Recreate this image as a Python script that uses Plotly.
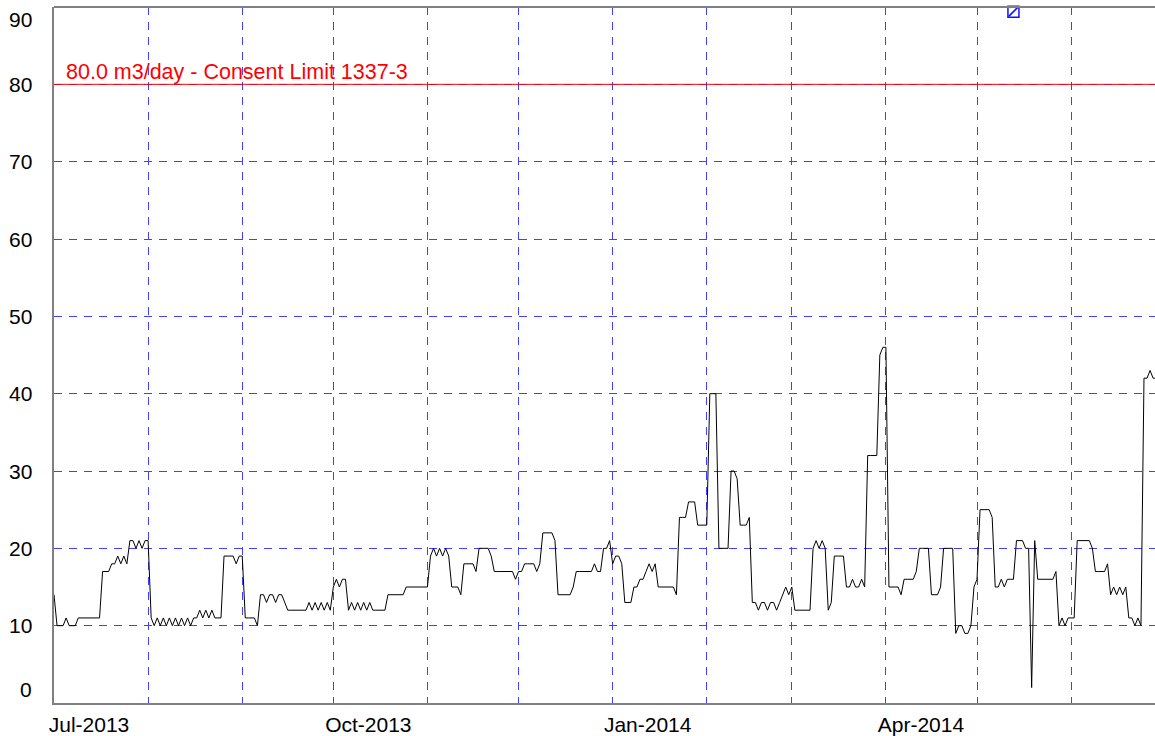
import datetime as dt
import plotly.graph_objects as go

# ---- data: daily abstraction volume (m3/day), one list per month ----
month_starts = ["2013-07-01", "2013-08-01", "2013-09-01", "2013-10-01", "2013-11-01", "2013-12-01",
                "2014-01-01", "2014-02-01", "2014-03-01", "2014-04-01", "2014-05-01", "2014-06-01"]
jul_2013 = [14, 10, 10, 10, 11, 10, 10, 10, 11, 11, 11, 11, 11, 11, 11, 11,
            17, 17, 17, 18, 18, 19, 18, 19, 18, 21, 21, 20, 21, 20, 21]
aug_2013 = [21, 11, 10, 11, 10, 11, 10, 11, 10, 11, 10, 11, 10, 11, 10, 11, 11,
            12, 11, 12, 11, 12, 11, 11, 11, 19, 19, 19, 19, 18, 19]
sep_2013 = [19, 11, 11, 11, 11, 10, 14, 14, 13, 14, 14, 13, 14, 14, 13, 12, 12, 12,
            12, 12, 12, 12, 13, 12, 13, 12, 13, 12, 13, 12]
oct_2013 = [15, 16, 15, 16, 16, 12, 13, 12, 13, 12, 13, 12, 13, 12, 12, 12, 12, 12,
            14, 14, 14, 14, 14, 14, 15, 15, 15, 15, 15, 15, 15]
nov_2013 = [15, 19, 20, 19, 20, 19, 20, 19, 15, 15, 15, 14, 18, 18, 18, 18, 17,
            20, 20, 20, 20, 19, 17, 17, 17, 17, 17, 17, 17, 16]
dec_2013 = [17, 17, 18, 18, 18, 18, 17, 18, 22, 22, 22, 22, 21, 14, 14, 14, 14, 14,
            15, 17, 17, 17, 17, 17, 17, 18, 17, 17, 20, 20, 21]
jan_2014 = [18, 19, 19, 18, 13, 13, 13, 15, 15, 16, 16, 17, 18, 17, 18, 15, 15, 15,
            15, 15, 15, 14, 24, 24, 24, 26, 26, 26, 23, 23, 23]
feb_2014 = [23, 40, 40, 40, 20, 20, 20, 20, 30, 30, 29, 23, 23, 23, 24, 13, 13,
            12, 13, 13, 12, 13, 13, 12, 13, 14, 15, 14]
mar_2014 = [15, 12, 12, 12, 12, 12, 12, 20, 21, 20, 21, 20, 12, 13, 19, 19, 19, 19,
            15, 15, 16, 15, 15, 16, 15, 32, 32, 32, 32, 45, 46]
apr_2014 = [46, 15, 15, 15, 15, 14, 16, 16, 16, 16, 17, 20, 20, 20, 20, 14, 14, 14,
            15, 20, 20, 20, 20, 9, 10, 10, 9, 9, 10, 15]
may_2014 = [16, 25, 25, 25, 25, 24, 15, 15, 16, 15, 16, 16, 16, 21, 21, 21, 20, 20,
            2, 21, 16, 16, 16, 16, 16, 16, 17, 10, 11, 10, 11]
jun_2014 = [11, 11, 21, 21, 21, 21, 21, 20, 17, 17, 17, 17, 18, 14, 15, 14, 15, 14,
            15, 11, 11, 10, 11, 10, 42, 42, 43, 42, 42]
monthly_values = [jul_2013, aug_2013, sep_2013, oct_2013, nov_2013, dec_2013,
                  jan_2014, feb_2014, mar_2014, apr_2014, may_2014, jun_2014]

# off-scale flag marker (value above axis maximum)
flag_dates = ["2014-05-13"]
flag_values = [89.4]

consent_limit = 80.0
consent_label = f"{consent_limit:.1f} m3/day - Consent Limit 1337-3"

quarter_ticks = ["2013-07-01", "2013-10-01", "2014-01-01", "2014-04-01"]
quarter_labels = ["Jul-2013", "Oct-2013", "Jan-2014", "Apr-2014"]
y_ticks = [0, 10, 20, 30, 40, 50, 60, 70, 80, 90]

# ---- build daily series ----
dates, values = [], []
for start, vals in zip(month_starts, monthly_values):
    d0 = dt.date.fromisoformat(start)
    for i, v in enumerate(vals):
        dates.append(d0 + dt.timedelta(days=i))
        values.append(v)

FONT = "Liberation Sans, Arial, sans-serif"
GRID = "#4040ff"
GRIDDASH = "8px,7px"

fig = go.Figure()
fig.add_trace(go.Scatter(x=dates, y=values, mode="lines",
                         line=dict(color="black", width=1), showlegend=False,
                         hoverinfo="x+y"))
fig.add_trace(go.Scatter(x=flag_dates, y=flag_values, mode="markers",
                         marker=dict(symbol="square-open", size=11, color="#1010ff",
                                     line=dict(width=1.5, color="#1010ff")),
                         showlegend=False, cliponaxis=False))
fig.add_trace(go.Scatter(x=flag_dates, y=flag_values, mode="markers",
                         marker=dict(symbol="line-ne", size=9, color="#1010ff",
                                     line=dict(width=1.5, color="#1010ff")),
                         showlegend=False, cliponaxis=False))

fig.add_shape(type="line", xref="paper", x0=0, x1=1, yref="y",
              y0=consent_limit, y1=consent_limit, line=dict(color="red", width=1))
fig.add_shape(type="line", xref="paper", x0=0, x1=1, yref="paper", y0=1, y1=1,
              line=dict(color="#808080", width=2))
fig.add_annotation(x=0, xref="paper", xanchor="left", xshift=10,
                   y=consent_limit, yref="y", yanchor="bottom", yshift=-2,
                   text=consent_label, showarrow=False,
                   font=dict(color="red", size=21.5, family=FONT))

# y tick labels (end labels nudged inside the plot height, as in the source chart)
for v in y_ticks:
    shift = 0
    if v == y_ticks[0]:
        shift = 14
    elif v == y_ticks[-1]:
        shift = -12
    fig.add_annotation(x=0, xref="paper", xanchor="right", xshift=-20,
                       y=v, yref="y", yanchor="middle", yshift=shift,
                       text=str(v), showarrow=False,
                       font=dict(color="black", size=21, family=FONT))

fig.update_layout(
    width=1155, height=736,
    margin=dict(l=54, r=0, t=7, b=31),
    paper_bgcolor="white", plot_bgcolor="white",
    font=dict(family=FONT, size=21, color="black"),
    xaxis=dict(type="date", range=["2013-07-01", "2014-06-28 15:00"],
               tickmode="array", tickvals=quarter_ticks, ticktext=quarter_labels,
               ticks="", ticklabelshift=35, ticklabelstandoff=2,
               showgrid=True, gridcolor=GRID, griddash=GRIDDASH, gridwidth=1,
               minor=dict(dtick="M1", tick0="2013-07-01", showgrid=True,
                          gridcolor=GRID, griddash=GRIDDASH, gridwidth=1),
               showline=True, linecolor="#808080", linewidth=2, zeroline=False),
    yaxis=dict(range=[0, 90], tickmode="array", tickvals=y_ticks, showticklabels=False,
               ticks="",
               showgrid=True, gridcolor=GRID, griddash=GRIDDASH, gridwidth=1,
               showline=True, linecolor="#808080", linewidth=2, zeroline=False),
)

fig.write_html("out.html", config={"displayModeBar": False},
               post_script="document.body.style.margin='0';")
